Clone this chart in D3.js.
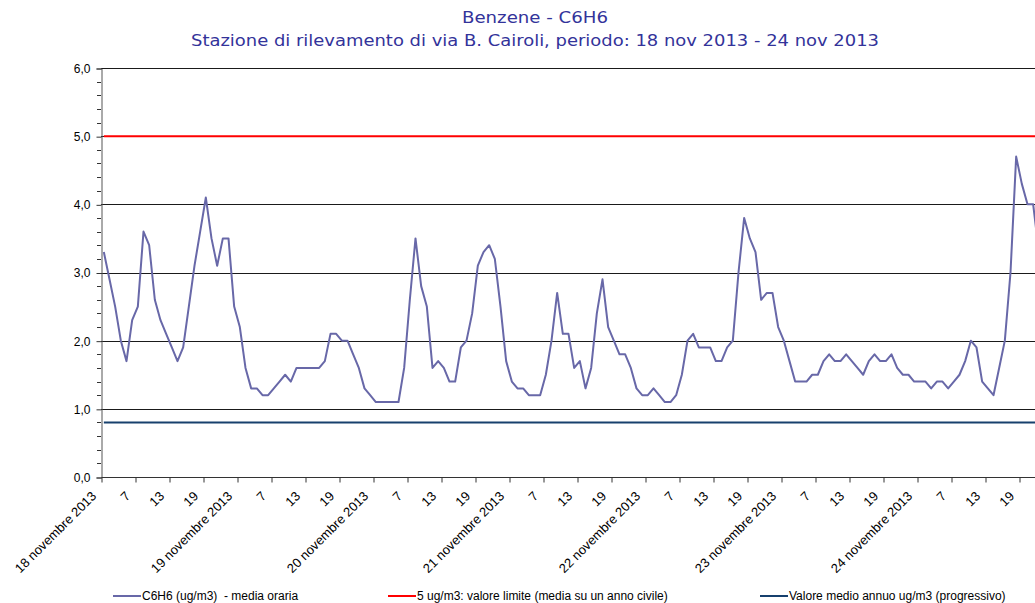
<!DOCTYPE html>
<html>
<head>
<meta charset="utf-8">
<script src="https://cdn.jsdelivr.net/npm/d3@7"></script>
<style>
  body { margin: 0; background: #fff; }
  svg { display: block; }
</style>
</head>
<body>
<script>
// hourly C6H6 averages (ug/m3), one array per day, hour 1..24
const day18 = [3.3, 2.9, 2.5, 2.0, 1.7, 2.3, 2.5, 3.6, 3.4, 2.6, 2.3, 2.1, 1.9, 1.7, 1.9, 2.5, 3.1, 3.6, 4.1, 3.5, 3.1, 3.5, 3.5, 2.5];
const day19 = [2.2, 1.6, 1.3, 1.3, 1.2, 1.2, 1.3, 1.4, 1.5, 1.4, 1.6, 1.6, 1.6, 1.6, 1.6, 1.7, 2.1, 2.1, 2.0, 2.0, 1.8, 1.6, 1.3, 1.2];
const day20 = [1.1, 1.1, 1.1, 1.1, 1.1, 1.6, 2.6, 3.5, 2.8, 2.5, 1.6, 1.7, 1.6, 1.4, 1.4, 1.9, 2.0, 2.4, 3.1, 3.3, 3.4, 3.2, 2.5, 1.7];
const day21 = [1.4, 1.3, 1.3, 1.2, 1.2, 1.2, 1.5, 2.0, 2.7, 2.1, 2.1, 1.6, 1.7, 1.3, 1.6, 2.4, 2.9, 2.2, 2.0, 1.8, 1.8, 1.6, 1.3, 1.2];
const day22 = [1.2, 1.3, 1.2, 1.1, 1.1, 1.2, 1.5, 2.0, 2.1, 1.9, 1.9, 1.9, 1.7, 1.7, 1.9, 2.0, 3.0, 3.8, 3.5, 3.3, 2.6, 2.7, 2.7, 2.2];
const day23 = [2.0, 1.7, 1.4, 1.4, 1.4, 1.5, 1.5, 1.7, 1.8, 1.7, 1.7, 1.8, 1.7, 1.6, 1.5, 1.7, 1.8, 1.7, 1.7, 1.8, 1.6, 1.5, 1.5, 1.4];
const day24 = [1.4, 1.4, 1.3, 1.4, 1.4, 1.3, 1.4, 1.5, 1.7, 2.0, 1.9, 1.4, 1.3, 1.2, 1.6, 2.0, 3.0, 4.7, 4.3, 4.0, 4.0, 3.3];

const hourly = [].concat(day18, day19, day20, day21, day22, day23, day24);

const limitValue = 5.0;     // valore limite
const annualMean = 0.8;     // valore medio annuo progressivo

const dayLabels = ["18 novembre 2013", "19 novembre 2013", "20 novembre 2013", "21 novembre 2013",
  "22 novembre 2013", "23 novembre 2013", "24 novembre 2013"];
const hourLabels = ["7", "13", "19"];
const yTicks = [0, 1, 2, 3, 4, 5, 6];

const titleLines = ["Benzene - C6H6",
  "Stazione di rilevamento di via B. Cairoli, periodo: 18 nov 2013 - 24 nov 2013"];
const legendItems = [
  { label: "C6H6 (ug/m3)  - media oraria", color: "#6868a8" },
  { label: "5 ug/m3: valore limite (media su un anno civile)", color: "#ff0000" },
  { label: "Valore medio annuo ug/m3 (progressivo)", color: "#17406d" }
];

const W = 1035, H = 603;
const nHours = dayLabels.length * 24;

const svg = d3.select("body").append("svg")
  .attr("width", W)
  .attr("height", H)
  .style("font-family", "'Liberation Sans', Arial, sans-serif");

svg.append("rect").attr("width", W).attr("height", H).attr("fill", "#fff");

const x = d3.scaleLinear().domain([0, nHours]).range([101, 1053]);
const y = d3.scaleLinear().domain([0, 6]).range([477, 68]);

// title
svg.selectAll("text.title")
  .data(titleLines)
  .join("text")
  .attr("class", "title")
  .attr("x", 535)
  .attr("y", (d, i) => i === 0 ? 23 : 46)
  .attr("text-anchor", "middle")
  .attr("fill", "#33339a")
  .style("font-family", "'DejaVu Sans', Verdana, sans-serif")
  .style("font-size", "16px")
  .attr("textLength", (d, i) => i === 0 ? 146 : 688)
  .attr("lengthAdjust", "spacingAndGlyphs")
  .text(d => d);

// gridlines
svg.append("g")
  .selectAll("line")
  .data(yTicks.filter(v => v > 0))
  .join("line")
  .attr("x1", x(0)).attr("x2", W)
  .attr("y1", d => Math.round(y(d)) + 0.5)
  .attr("y2", d => Math.round(y(d)) + 0.5)
  .attr("stroke", "#1a1a1a")
  .attr("stroke-width", 1);

// y axis
const yAxis = svg.append("g")
  .attr("transform", `translate(${x(0) + 0.5},0.5)`)
  .call(d3.axisLeft(y).tickValues(yTicks).tickSize(5).tickPadding(6)
    .tickFormat(d => d3.format(".1f")(d).replace(".", ",")));
yAxis.select(".domain").attr("stroke", "#555");
yAxis.selectAll(".tick line").attr("stroke", "#333");
yAxis.selectAll("text").style("font-size", "12px").attr("fill", "#000")
  .style("font-family", "'Liberation Sans', Arial, sans-serif");

// minor y ticks every 0.2
svg.append("g")
  .selectAll("line")
  .data(d3.range(1, 30).filter(k => k % 5 !== 0).map(k => k * 0.2))
  .join("line")
  .attr("x1", x(0) - 4).attr("x2", x(0))
  .attr("y1", d => Math.round(y(d)) + 0.5)
  .attr("y2", d => Math.round(y(d)) + 0.5)
  .attr("stroke", "#333");

// x axis
const tickIdx = d3.range(0, nHours, 6);
const tickText = tickIdx.map(i => (i % 24 === 0) ? dayLabels[i / 24] : hourLabels[(i % 24) / 6 - 1]);

const xAxis = svg.append("g")
  .attr("transform", `translate(0.5,${y(0) + 0.5})`)
  .call(d3.axisBottom(x).tickValues(tickIdx).tickSize(5).tickFormat(""));
xAxis.select(".domain").attr("stroke", "#333").attr("d", `M${x(0)},0H${W}`);
xAxis.selectAll(".tick line").attr("stroke", "#333");

svg.append("g")
  .selectAll("text")
  .data(tickIdx)
  .join("text")
  .attr("transform", d => `translate(${x(d) - 4},497) rotate(-45)`)
  .attr("text-anchor", "end")
  .style("font-size", "13px")
  .attr("fill", "#000")
  .text((d, i) => tickText[i]);

// reference lines
svg.append("line")
  .attr("x1", x(0.5)).attr("x2", x(nHours - 0.5))
  .attr("y1", y(limitValue)).attr("y2", y(limitValue))
  .attr("stroke", legendItems[1].color).attr("stroke-width", 2);

svg.append("line")
  .attr("x1", x(0.5)).attr("x2", x(nHours - 0.5))
  .attr("y1", y(annualMean)).attr("y2", y(annualMean))
  .attr("stroke", legendItems[2].color).attr("stroke-width", 2);

// hourly series
const line = d3.line()
  .x((d, i) => x(i + 0.5))
  .y(d => y(d));

svg.append("path")
  .datum(hourly)
  .attr("d", line)
  .attr("fill", "none")
  .attr("stroke", legendItems[0].color)
  .attr("stroke-width", 2)
  .attr("stroke-linejoin", "round");

// legend
const legendX = [113, 388, 760];
const lg = svg.append("g")
  .selectAll("g")
  .data(legendItems)
  .join("g")
  .attr("transform", (d, i) => `translate(${legendX[i]},596)`);
lg.append("line")
  .attr("x1", 0).attr("x2", 28)
  .attr("stroke", d => d.color).attr("stroke-width", 2);
lg.append("text")
  .attr("x", 29).attr("dy", "0.35em")
  .style("font-size", "12px")
  .style("white-space", "pre")
  .attr("fill", "#000")
  .text(d => d.label);
</script>
</body>
</html>
